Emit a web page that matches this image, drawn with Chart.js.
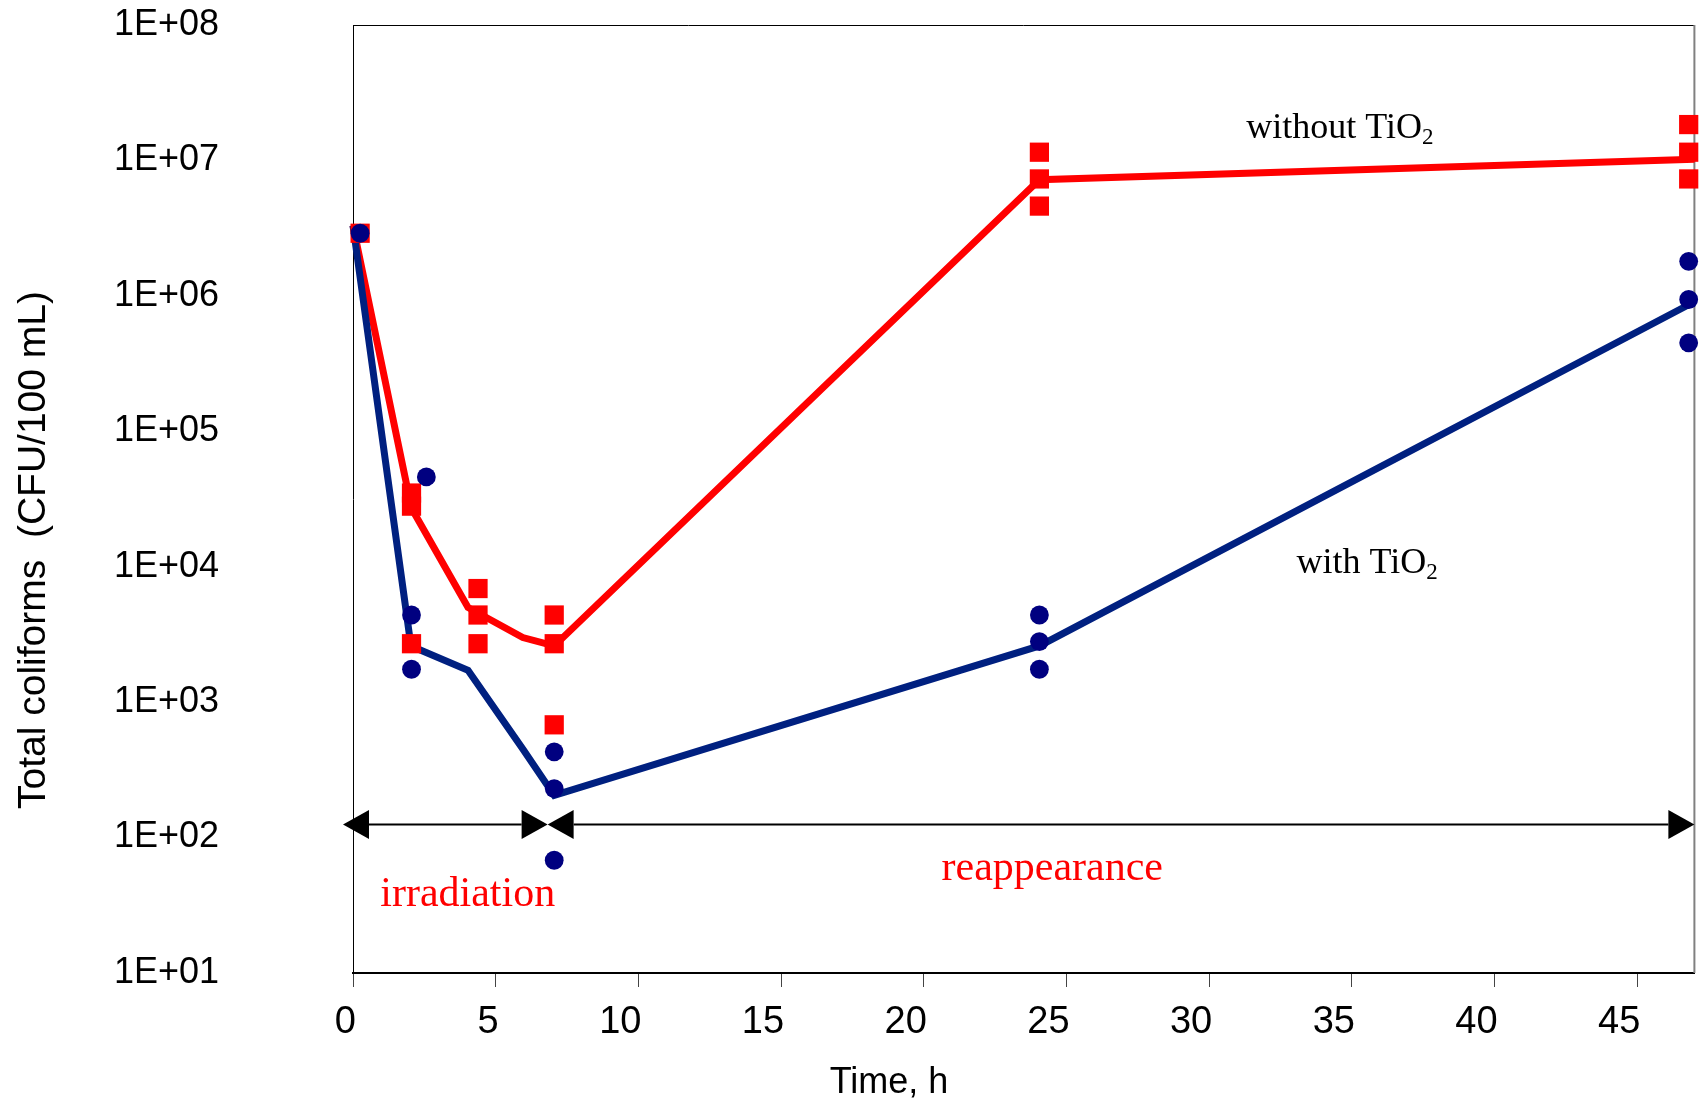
<!DOCTYPE html>
<html>
<head>
<meta charset="utf-8">
<title>Total coliforms vs time</title>
<script src="https://cdn.jsdelivr.net/npm/chart.js@4.4.1/dist/chart.umd.min.js"></script>
<style>
  html, body { margin: 0; padding: 0; background: #ffffff; }
  #wrap { width: 1708px; height: 1103px; }
</style>
</head>
<body>
<div id="wrap"><canvas id="chart" width="1708" height="1103"></canvas></div>
<script>
// Replicate counts (CFU/100 mL) without TiO2
const redTimes  = [0.25, 2.05, 2.05, 2.05, 4.38, 4.38, 4.38, 7.05, 7.05, 7.05, 24.05, 24.05, 24.05, 46.8, 46.8, 46.8];
const redValues = [2.9e6, 3.5e4, 2.8e4, 2.7e3, 6.9e3, 4.4e3, 2.7e3, 4.4e3, 2.7e3, 6.8e2, 1.15e7, 7.3e6, 4.6e6, 1.84e7, 1.15e7, 7.3e6];

// Replicate counts (CFU/100 mL) with TiO2
const blueTimes  = [0.25, 2.57, 2.05, 2.05, 7.05, 7.05, 7.05, 24.05, 24.05, 24.05, 46.8, 46.8, 46.8];
const blueValues = [2.9e6, 4.6e4, 4.4e3, 1.75e3, 4.3e2, 2.3e2, 68, 4.4e3, 2.8e3, 1.75e3, 1.8e6, 9.4e5, 4.5e5];

// Trend lines
const redLineTimes   = [0, 2.05, 4.03, 5.95, 7.05, 24.05, 47];
const redLineValues  = [3.3e6, 2.7e4, 5.0e3, 3.0e3, 2.6e3, 7.2e6, 1.02e7];
const blueLineTimes  = [0, 2.03, 4.03, 5.95, 7.05, 24.05, 46.8];
const blueLineValues = [3.3e6, 2.6e3, 1.72e3, 4.5e2, 2.05e2, 2.6e3, 8.6e5];

// Axis ticks
const yTickValues = [1e1, 1e2, 1e3, 1e4, 1e5, 1e6, 1e7, 1e8];
const yTickLabels = ['1E+01', '1E+02', '1E+03', '1E+04', '1E+05', '1E+06', '1E+07', '1E+08'];

// Experimental phases (time span in h) marked by double arrows
const phaseNames  = ['irradiation', 'reappearance'];
const phaseStarts = [-0.35, 6.82];
const phaseEnds   = [6.82, 47];
const phaseLevel  = 125;

const pts = (xs, ys) => xs.map((x, i) => ({ x: x, y: ys[i] }));

const SANS = '"Liberation Sans", Arial, sans-serif';
const SERIF = '"Liberation Serif", "Times New Roman", serif';

const decorations = {
  id: 'decorations',
  beforeDatasetsDraw(chart) {
    const { ctx, chartArea: a } = chart;
    ctx.save();
    ctx.strokeStyle = '#000000';
    ctx.lineWidth = 1;
    ctx.beginPath();
    ctx.moveTo(a.left, a.top + 0.5);
    ctx.lineTo(a.right, a.top + 0.5);
    ctx.stroke();
    ctx.strokeStyle = '#808080';
    ctx.lineWidth = 2;
    ctx.beginPath();
    ctx.moveTo(a.right, a.top);
    ctx.lineTo(a.right, a.bottom);
    ctx.stroke();
    ctx.restore();
  },
  afterDatasetsDraw(chart) {
    const { ctx } = chart;
    const xs = chart.scales.x, ys = chart.scales.y;
    ctx.save();

    // double arrows for the phases
    const yA = Math.round(ys.getPixelForValue(phaseLevel)) + 0.5;
    const headL = 26, headH = 14.5;
    ctx.fillStyle = '#000000';
    ctx.strokeStyle = '#000000';
    ctx.lineWidth = 2;
    for (let i = 0; i < phaseNames.length; i++) {
      const x1 = xs.getPixelForValue(phaseStarts[i]);
      const x2 = xs.getPixelForValue(phaseEnds[i]);
      ctx.beginPath();
      ctx.moveTo(x1 + headL, yA);
      ctx.lineTo(x2 - headL, yA);
      ctx.stroke();
      ctx.beginPath();
      ctx.moveTo(x1, yA);
      ctx.lineTo(x1 + headL, yA - headH);
      ctx.lineTo(x1 + headL, yA + headH);
      ctx.closePath();
      ctx.fill();
      ctx.beginPath();
      ctx.moveTo(x2, yA);
      ctx.lineTo(x2 - headL, yA - headH);
      ctx.lineTo(x2 - headL, yA + headH);
      ctx.closePath();
      ctx.fill();
    }

    // phase names
    ctx.fillStyle = '#ff0000';
    ctx.font = '42px ' + SERIF;
    ctx.textAlign = 'center';
    ctx.textBaseline = 'alphabetic';
    ctx.fillText(phaseNames[0], xs.getPixelForValue(4.02), ys.getPixelForValue(31.1));
    ctx.fillText(phaseNames[1], xs.getPixelForValue(24.5), ys.getPixelForValue(48.4));

    // curve labels with subscript
    const curveLabel = (main, sub, t, v) => {
      const x = xs.getPixelForValue(t), y = ys.getPixelForValue(v);
      ctx.fillStyle = '#000000';
      ctx.textAlign = 'left';
      ctx.font = '36px ' + SERIF;
      ctx.fillText(main, x, y);
      const w = ctx.measureText(main).width;
      ctx.font = '23px ' + SERIF;
      ctx.fillText(sub, x + w, y + 6);
    };
    curveLabel('without TiO', '2', 31.3, 1.46e7);
    curveLabel('with TiO', '2', 33.06, 8.97e3);
    ctx.restore();
  },
  afterDraw(chart) {
    const { ctx } = chart;
    ctx.save();
    ctx.fillStyle = '#000000';
    ctx.font = '39px ' + SANS;
    ctx.textBaseline = 'alphabetic';
    ctx.textAlign = 'center';
    // y-axis title
    ctx.save();
    ctx.translate(45, 550);
    ctx.rotate(-Math.PI / 2);
    ctx.fillText('Total coliforms  (CFU/100 mL)', 0, 0);
    ctx.restore();
    // x-axis title
    ctx.font = '36px ' + SANS;
    ctx.fillText('Time, h', 889, 1093);
    ctx.restore();
  }
};

new Chart(document.getElementById('chart'), {
  type: 'scatter',
  data: {
    datasets: [
      {
        label: 'with TiO2 (replicates)',
        data: pts(blueTimes, blueValues),
        showLine: false,
        pointStyle: 'circle',
        pointRadius: 9.4,
        pointBackgroundColor: '#000080',
        pointBorderWidth: 0,
        clip: false
      },
      {
        label: 'without TiO2 (replicates)',
        data: pts(redTimes, redValues),
        showLine: false,
        pointStyle: 'rect',
        pointRadius: 13.6,
        pointBackgroundColor: '#ff0000',
        pointBorderWidth: 0,
        clip: false
      },
      {
        label: 'with TiO2',
        data: pts(blueLineTimes, blueLineValues),
        showLine: true,
        borderColor: '#002080',
        borderWidth: 7,
        borderJoinStyle: 'miter',
        pointRadius: 0,
        tension: 0,
        clip: false
      },
      {
        label: 'without TiO2',
        data: pts(redLineTimes, redLineValues),
        showLine: true,
        borderColor: '#ff0000',
        borderWidth: 7,
        borderJoinStyle: 'miter',
        pointRadius: 0,
        tension: 0,
        clip: false
      }
    ]
  },
  options: {
    responsive: false,
    animation: false,
    devicePixelRatio: 1,
    layout: { padding: { left: 114, top: 25, right: 10, bottom: 0 } },
    plugins: {
      legend: { display: false },
      tooltip: { enabled: false }
    },
    scales: {
      x: {
        type: 'linear',
        position: 'bottom',
        min: 0,
        max: 47,
        afterFit: (scale) => { scale.height = 130; },
        ticks: {
          stepSize: 5,
          includeBounds: false,
          align: 'end',
          labelOffset: 3,
          maxRotation: 0,
          autoSkip: false,
          padding: 13,
          color: '#000000',
          font: { family: SANS, size: 38 }
        },
        grid: {
          display: true,
          drawOnChartArea: false,
          drawTicks: true,
          tickLength: 14,
          tickColor: '#444444',
          tickWidth: 1,
          color: '#444444'
        },
        border: { display: true, color: '#000000', width: 2 }
      },
      y: {
        type: 'logarithmic',
        position: 'left',
        min: 10,
        max: 1e8,
        afterFit: (scale) => { scale.width = 239; },
        afterBuildTicks: (scale) => { scale.ticks = yTickValues.map(v => ({ value: v })); },
        ticks: {
          autoSkip: false,
          padding: 0,
          crossAlign: 'far',
          color: '#000000',
          font: { family: SANS, size: 36 },
          callback: (value) => {
            const i = yTickValues.findIndex(v => Math.abs(Math.log10(v) - Math.log10(value)) < 1e-6);
            return i >= 0 ? yTickLabels[i] : '';
          }
        },
        grid: { display: false, drawTicks: false },
        border: { display: true, color: '#000000', width: 1 }
      }
    }
  },
  plugins: [decorations]
});
</script>
</body>
</html>
